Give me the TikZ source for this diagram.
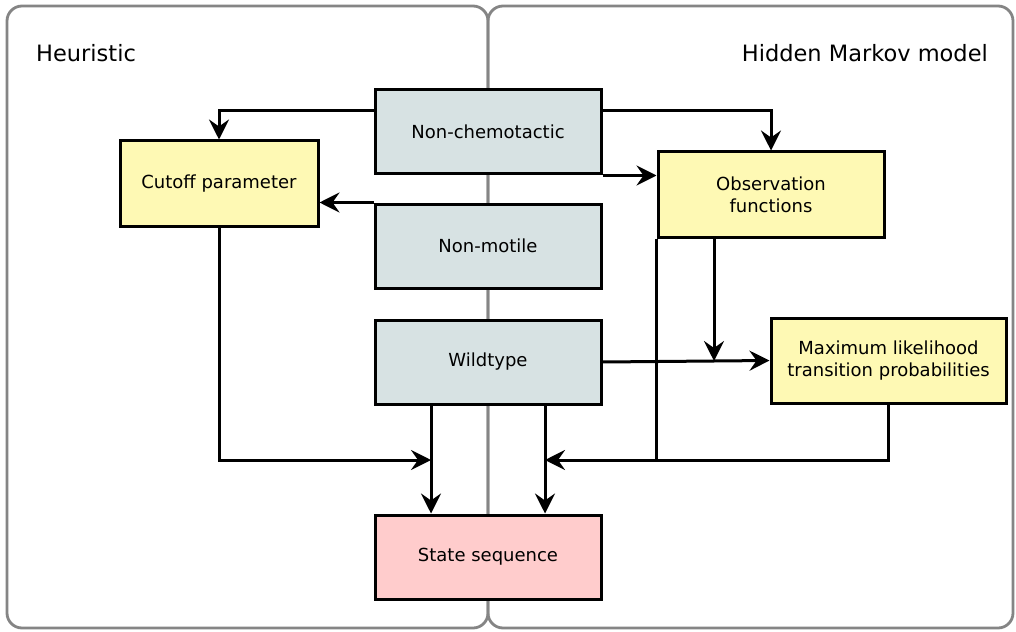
\documentclass[tikz,border=0pt]{standalone}
\usepackage{fontspec}
\setmainfont{DejaVu Sans}
\usetikzlibrary{arrows.meta,calc}
\definecolor{boxgray}{HTML}{D7E2E3}
\definecolor{boxyellow}{HTML}{FEF9B4}
\definecolor{boxpink}{HTML}{FFCCCC}
\definecolor{panelgray}{HTML}{858585}
\tikzset{
  panel/.style={draw=panelgray,line width=2.8pt,rounded corners=15pt},
  box/.style={draw=black,line width=3pt,inner sep=0pt,align=center,font=\fontsize{18}{22}\selectfont},
  graybox/.style={box,fill=boxgray,minimum width=226pt,minimum height=84pt},
  yellowbox/.style={box,fill=boxyellow,minimum height=85pt},
  pinkbox/.style={box,fill=boxpink,minimum width=226pt,minimum height=84pt},
  conn/.style={line width=3pt,draw=black},
  arr/.style={conn,-{Stealth[length=20pt,width=20pt,inset=7pt]}},
  title/.style={inner sep=0pt,font=\fontsize{22.5}{27}\selectfont}
}
\begin{document}
\begin{tikzpicture}[x=1pt,y=-1pt]
\useasboundingbox (0,0) rectangle (1016,631);
\fill[white] (0,0) rectangle (1016,631);
\draw[panel] (7,6) rectangle (488,628);
\draw[panel] (488,6) rectangle (1013,628);
\node[title,anchor=base west] (heu) at (36,62) {Heuristic};
\node[title,anchor=base east] (hmm) at (988,62) {Hidden Markov model};

\node[graybox] (nc) at (488,132) {Non-chemotactic};
\node[graybox] (nm) at (488,246) {Non-motile};
\node[graybox] (wt) at (488,362) {Wildtype};
\node[pinkbox] (ss) at (488,557) {State sequence};
\node[yellowbox,minimum width=198pt] (cut) at (219,183.5) {Cutoff parameter};
\node[yellowbox,minimum width=226pt] (obs) at (771,194.5) {Observation\\functions};
\node[yellowbox,minimum width=235pt] (ml) at (888.5,360.5) {Maximum likelihood\\transition probabilities};

\coordinate (j1) at (714,361);
\coordinate (j2) at (545,460);
\coordinate (j3) at (431,460);

\draw[arr] ([yshift=21pt]nc.west) -| (cut.north);
\draw[arr] ([yshift=21pt]nc.east) -| (obs.north);
\draw[arr] (nc.south east) -- (obs.west |- nc.south east);
\draw[arr] (nm.north west) -- (cut.east |- nm.north west);
\draw[arr] (wt.east) -- (ml.west);
\draw[arr] (obs.south -| j1) -- (j1);
\draw[arr] (obs.south west) |- (j2);
\draw[conn] (ml.south) |- (obs.south west |- j2);
\draw[arr] (cut.south) |- (j3);
\draw[arr] (wt.south -| j3) -- (ss.north -| j3);
\draw[arr] (wt.south -| j2) -- (ss.north -| j2);
\end{tikzpicture}
\end{document}
